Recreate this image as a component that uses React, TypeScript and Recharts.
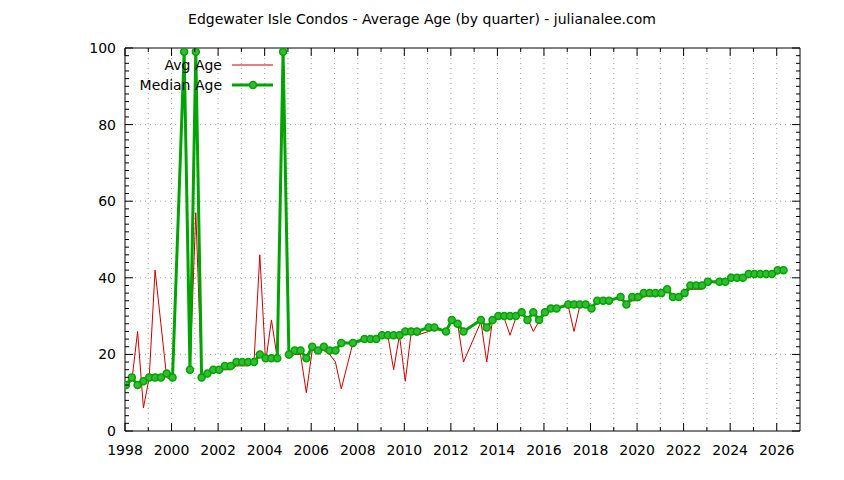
import React from "react";
import {
  CartesianGrid,
  Line,
  LineChart,
  XAxis,
  YAxis,
} from "recharts";

// quarter of sale, avg age and median age of the condos sold
const quarters = [
  "1998Q1", "1998Q2", "1998Q3", "1998Q4",
  "1999Q1", "1999Q2", "1999Q3", "1999Q4",
  "2000Q1", "2000Q3", "2000Q4",
  "2001Q1", "2001Q2", "2001Q3", "2001Q4",
  "2002Q1", "2002Q2", "2002Q3", "2002Q4",
  "2003Q1", "2003Q2", "2003Q3", "2003Q4",
  "2004Q1", "2004Q2", "2004Q3", "2004Q4",
  "2005Q1", "2005Q2", "2005Q3", "2005Q4",
  "2006Q1", "2006Q2", "2006Q3", "2006Q4",
  "2007Q1", "2007Q2", "2007Q4",
  "2008Q2", "2008Q3", "2008Q4",
  "2009Q1", "2009Q2", "2009Q3", "2009Q4",
  "2010Q1", "2010Q2", "2010Q3",
  "2011Q1", "2011Q2", "2011Q4",
  "2012Q1", "2012Q2", "2012Q3",
  "2013Q2", "2013Q3", "2013Q4",
  "2014Q1", "2014Q2", "2014Q3", "2014Q4",
  "2015Q1", "2015Q2", "2015Q3", "2015Q4",
  "2016Q1", "2016Q2", "2016Q3",
  "2017Q1", "2017Q2", "2017Q3", "2017Q4",
  "2018Q1", "2018Q2", "2018Q3", "2018Q4",
  "2019Q2", "2019Q3", "2019Q4",
  "2020Q1", "2020Q2", "2020Q3", "2020Q4",
  "2021Q1", "2021Q2", "2021Q3", "2021Q4",
  "2022Q1", "2022Q2", "2022Q3", "2022Q4",
  "2023Q1", "2023Q3", "2023Q4",
  "2024Q1", "2024Q2", "2024Q3", "2024Q4",
  "2025Q1", "2025Q2", "2025Q3", "2025Q4",
  "2026Q1", "2026Q2",
];

const avgAge = [
  12, 13, 26, 6,
  14, 42, 28, 14,
  13, 99, 16,
  57, 14, 15, 16,
  16, 16, 16, 17,
  17, 17, 18, 46,
  18, 29, 19, 99,
  19, 20, 20, 10,
  21, 21, 21, 20,
  18, 11, 23,
  23.5, 23.5, 24,
  24.5, 25, 16, 25,
  13, 25.5, 25,
  26, 26.5, 26.3,
  29, 28, 18,
  28.5, 18, 29,
  29.5, 29.5, 25, 29.5,
  30.5, 29.5, 26, 28.7,
  30.5, 32, 32,
  32.7, 26, 32.7, 32.7,
  32, 33.5, 34, 34,
  35, 33, 34,
  34, 35, 35.5, 35,
  36, 37, 35, 35,
  36, 37, 37, 37,
  39, 38.5, 38.5,
  40, 40, 40, 40,
  41, 41, 40.3, 41,
  41, 42,
];

const medianAge = [
  12, 14, 12, 13,
  14, 14, 14, 15,
  14, 99, 16,
  99, 14, 15, 16,
  16, 17, 17, 18,
  18, 18, 18, 20,
  19, 19, 19, 99,
  20, 21, 21, 19,
  22, 21, 22, 21,
  21, 23, 23,
  24, 24, 24,
  25, 25, 25, 25,
  26, 26, 26,
  27, 27, 26,
  29, 28, 26,
  29, 27, 29,
  30, 30, 30, 30,
  31, 29, 31, 29,
  31, 32, 32,
  33, 33, 33, 33,
  32, 34, 34, 34,
  35, 33, 35,
  35, 36, 36, 36,
  36, 37, 35, 35,
  36, 38, 38, 38,
  39, 39, 39,
  40, 40, 40, 41,
  41, 41, 41, 41,
  42, 42,
];

const yearTicks = [
  1998, 1999, 2000, 2001, 2002, 2003, 2004, 2005, 2006, 2007,
  2008, 2009, 2010, 2011, 2012, 2013, 2014, 2015, 2016, 2017,
  2018, 2019, 2020, 2021, 2022, 2023, 2024, 2025, 2026,
];
const yearGrid = yearTicks.slice(1);
const ageTicks = Array.from({ length: 51 }, (_, i) => i * 2);
const ageGrid = [20, 40, 60, 80];

const FONT = "'DejaVu Sans', sans-serif";
const RED = "#cc0000";
const GREEN = "#00a400";
const DOT_FILL = "#33bb33";

// quarters sit at the start of the quarter's first month, like the gnuplot time axis
const toYear = (q: string) =>
  Number(q.slice(0, 4)) + (Number(q.slice(5)) - 1) / 4 + 1 / 24;

const data = quarters.map((q, i) => ({
  t: toYear(q),
  avg: avgAge[i],
  median: medianAge[i],
}));

const BottomTick = ({ x, y, payload }: any) => {
  const major = payload.value % 2 === 0;
  return (
    <g>
      <line x1={x} x2={x} y1={y} y2={y - (major ? 8 : 4)} stroke="#000" />
      {major && (
        <text x={x} y={y + 19} dy="0.35em" textAnchor="middle" fontSize={14} fontFamily={FONT} fill="#000">
          {payload.value}
        </text>
      )}
    </g>
  );
};

const TopTick = ({ x, y, payload }: any) => {
  const major = payload.value % 2 === 0;
  return <line x1={x} x2={x} y1={y} y2={y + (major ? 8 : 4)} stroke="#000" />;
};

const LeftTick = ({ x, y, payload }: any) => {
  const major = payload.value % 20 === 0;
  return (
    <g>
      <line x1={x} x2={x + (major ? 8 : 4)} y1={y} y2={y} stroke="#000" />
      {major && (
        <text x={x - 9} y={y} dy="0.35em" textAnchor="end" fontSize={14} fontFamily={FONT} fill="#000">
          {payload.value}
        </text>
      )}
    </g>
  );
};

const RightTick = ({ x, y, payload }: any) => {
  const major = payload.value % 20 === 0;
  return <line x1={x} x2={x - (major ? 8 : 4)} y1={y} y2={y} stroke="#000" />;
};

const KeyBox = () => (
  <div style={{ position: "absolute", left: 130, top: 55, fontFamily: FONT, fontSize: 14, color: "#000" }}>
    {[
      { name: "Avg Age", color: RED, width: 1, dot: false },
      { name: "Median Age", color: GREEN, width: 3, dot: true },
    ].map((row) => (
      <div key={row.name} style={{ display: "flex", alignItems: "center", height: 20 }}>
        <span style={{ width: 92, textAlign: "right" }}>{row.name}</span>
        <svg width={52} height={20} style={{ marginLeft: 10 }}>
          <line x1={0} x2={41} y1={10} y2={10} stroke={row.color} strokeWidth={row.width} />
          {row.dot && <circle cx={21} cy={10} r={3.5} fill={DOT_FILL} stroke={GREEN} strokeWidth={1.5} />}
        </svg>
      </div>
    ))}
  </div>
);

export default function App() {
  return (
    <div style={{ position: "absolute", left: 0, top: 0, width: 844, height: 480, background: "#fff" }}>
      <div
        style={{
          position: "absolute",
          top: 10,
          width: 844,
          textAlign: "center",
          lineHeight: "18px",
          fontFamily: FONT,
          fontSize: 14,
          color: "#000",
        }}
      >
        Edgewater Isle Condos - Average Age (by quarter) - julianalee.com
      </div>
      <LineChart width={844} height={480} data={data} margin={{ top: 38, right: 34, bottom: 19, left: 75 }}>
        <CartesianGrid
          stroke="#a0a0a0"
          strokeDasharray="1 4"
          verticalValues={yearGrid}
          horizontalValues={ageGrid}
        />
        <XAxis
          dataKey="t"
          type="number"
          domain={[1998, 2027]}
          ticks={yearTicks}
          interval={0}
          height={30}
          tickSize={0}
          tickMargin={0}
          tickLine={false}
          tick={<BottomTick />}
          axisLine={{ stroke: "#000" }}
          allowDataOverflow
        />
        <XAxis
          xAxisId="top"
          orientation="top"
          dataKey="t"
          type="number"
          domain={[1998, 2027]}
          ticks={yearTicks}
          interval={0}
          height={10}
          tickSize={0}
          tickMargin={0}
          tickLine={false}
          tick={<TopTick />}
          axisLine={{ stroke: "#000" }}
          allowDataOverflow
        />
        <YAxis
          type="number"
          domain={[0, 100]}
          ticks={ageTicks}
          interval={0}
          width={50}
          tickSize={0}
          tickMargin={0}
          tickLine={false}
          tick={<LeftTick />}
          axisLine={{ stroke: "#000" }}
          allowDataOverflow
        />
        <YAxis
          yAxisId="right"
          orientation="right"
          type="number"
          domain={[0, 100]}
          ticks={ageTicks}
          interval={0}
          width={10}
          tickSize={0}
          tickMargin={0}
          tickLine={false}
          tick={<RightTick />}
          axisLine={{ stroke: "#000" }}
          allowDataOverflow
        />
        <Line
          dataKey="avg"
          stroke={RED}
          strokeWidth={1}
          dot={false}
          isAnimationActive={false}
        />
        <Line
          dataKey="median"
          stroke={GREEN}
          strokeWidth={3}
          dot={{ r: 3.5, fill: DOT_FILL, stroke: GREEN, strokeWidth: 1.5 }}
          isAnimationActive={false}
        />
      </LineChart>
      <KeyBox />
    </div>
  );
}
